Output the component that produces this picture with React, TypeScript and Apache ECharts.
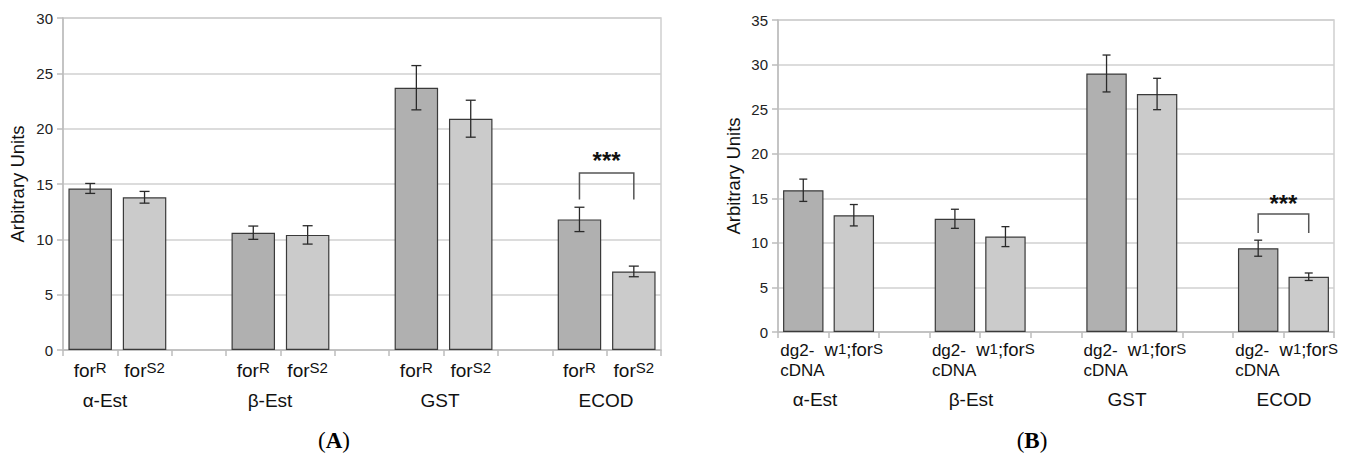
import React, { useEffect, useRef } from "react";
import * as echarts from "echarts";

// ---------- data ----------
const groups = ["α-Est", "β-Est", "GST", "ECOD"];

// Panel A
const strainsA = ["forR", "forS2"];
const meanA_forR = [14.6, 10.6, 23.7, 11.8];
const errA_forR = [0.45, 0.6, 2.0, 1.1];
const meanA_forS2 = [13.8, 10.4, 20.9, 7.1];
const errA_forS2 = [0.53, 0.83, 1.67, 0.48];
const yTicksA = [0, 5, 10, 15, 20, 25, 30];
const sigA = { group: 3, stars: "***", top: 16.0, bottom: 13.6 };
const labelRichA = ["{t|for}{s|R}", "{t|for}{s|S2}"];

// Panel B
const strainsB = ["dg2-cDNA", "w1;forS"];
const meanB_dg2 = [15.9, 12.7, 29.0, 9.4];
const errB_dg2 = [1.25, 1.07, 2.07, 0.9];
const meanB_w1 = [13.1, 10.7, 26.7, 6.2];
const errB_w1 = [1.2, 1.12, 1.76, 0.42];
const yTicksB = [0, 5, 10, 15, 20, 25, 30, 35];
const sigB = { group: 3, stars: "***", top: 13.25, bottom: 11.1 };
const labelRichB = ["{c|dg2-}\n{c|cDNA}", "{t|w}{s|1}{t|;for}{s|S}"];

const barColors = ["#b0b0b0", "#cbcbcb"];
const FONT = "Liberation Sans, Arial, Helvetica, sans-serif";
const SERIF = "Liberation Serif, Times New Roman, serif";

type Slot = { g: number; k: number } | null;

function buildSlots(nG: number, nK: number): Slot[] {
  const out: Slot[] = [];
  for (let g = 0; g < nG; g++) {
    for (let k = 0; k < nK; k++) out.push({ g, k });
    if (g < nG - 1) out.push(null);
  }
  return out;
}

function panel(
  idx: number,
  strains: string[],
  means: number[][],
  errs: number[][],
  yTicks: number[],
  sig: { group: number; stars: string; top: number; bottom: number },
  labelRich: string[],
  rich: any,
  capHalf: number,
  starsOffset: number,
  nameGap: number,
  labelMargin: number
) {
  const slots = buildSlots(groups.length, strains.length);
  const cats = slots.map((s, i) => (s ? groups[s.g] + " " + strains[s.k] : "gap" + i));
  const labels = slots.map((s) => (s ? labelRich[s.k] : ""));
  const barData = slots.map((s) =>
    s ? { value: means[s.k][s.g], itemStyle: { color: barColors[s.k] } } : "-"
  );
  const errData: number[][] = [];
  slots.forEach((s, i) => {
    if (s) {
      const m = means[s.k][s.g];
      const e = errs[s.k][s.g];
      errData.push([i, m - e, m + e]);
    }
  });
  const s1 = slots.findIndex((s) => s && s.g === sig.group && s.k === 0);
  const s2 = slots.findIndex((s) => s && s.g === sig.group && s.k === 1);

  const xAxis = {
    type: "category",
    gridIndex: idx,
    data: cats,
    boundaryGap: true,
    axisLine: { show: true, lineStyle: { color: "#bdbdbd", width: 1.5 } },
    axisTick: { show: true, interval: 0, length: 6, lineStyle: { color: "#bdbdbd", width: 1.5 } },
    axisLabel: {
      interval: 0,
      margin: labelMargin,
      color: "#111",
      formatter: (_v: string, i: number) => labels[i],
      rich,
    },
    splitLine: { show: false },
  };
  const yAxis = {
    type: "value",
    gridIndex: idx,
    min: yTicks[0],
    max: yTicks[yTicks.length - 1],
    interval: yTicks[1] - yTicks[0],
    name: "Arbitrary Units",
    nameLocation: "middle",
    nameGap,
    nameTextStyle: { fontSize: 18.5, color: "#111", fontFamily: FONT },
    axisLine: { show: true, lineStyle: { color: "#bdbdbd", width: 1.5 } },
    axisTick: { show: true, length: 6, lineStyle: { color: "#bdbdbd", width: 1.5 } },
    axisLabel: { fontSize: 15, color: "#222", margin: 10, fontFamily: FONT },
    splitLine: { show: true, lineStyle: { color: "#d0d0d0", width: 1.5 } },
  };
  const series = [
    {
      type: "bar",
      xAxisIndex: idx,
      yAxisIndex: idx,
      data: barData,
      barWidth: "80%",
      itemStyle: { borderColor: "#3a3a3a", borderWidth: 1.2 },
      z: 2,
    },
    {
      type: "custom",
      xAxisIndex: idx,
      yAxisIndex: idx,
      data: errData,
      z: 3,
      renderItem: (_p: any, api: any) => {
        const x = api.value(0);
        const lo = api.coord([x, api.value(1)]);
        const hi = api.coord([x, api.value(2)]);
        const st = { stroke: "#2a2a2a", lineWidth: 1.3 };
        return {
          type: "group",
          children: [
            { type: "line", shape: { x1: lo[0], y1: lo[1], x2: hi[0], y2: hi[1] }, style: st },
            { type: "line", shape: { x1: lo[0] - capHalf, y1: lo[1], x2: lo[0] + capHalf, y2: lo[1] }, style: st },
            { type: "line", shape: { x1: hi[0] - capHalf, y1: hi[1], x2: hi[0] + capHalf, y2: hi[1] }, style: st },
          ],
        };
      },
    },
    {
      type: "custom",
      xAxisIndex: idx,
      yAxisIndex: idx,
      data: [[s1, s2, sig.bottom, sig.top]],
      z: 4,
      renderItem: (_p: any, api: any) => {
        const a0 = api.coord([api.value(0), api.value(2)]);
        const a1 = api.coord([api.value(0), api.value(3)]);
        const b1 = api.coord([api.value(1), api.value(3)]);
        const b0 = api.coord([api.value(1), api.value(2)]);
        return {
          type: "group",
          children: [
            {
              type: "polyline",
              shape: { points: [a0, a1, b1, b0] },
              style: { stroke: "#555", lineWidth: 1.5, fill: "none" },
            },
            {
              type: "text",
              x: (a1[0] + b1[0]) / 2,
              y: a1[1] - starsOffset,
              style: {
                text: sig.stars,
                fontSize: 24,
                fontWeight: "bold",
                fontFamily: FONT,
                fill: "#111",
                align: "center",
                verticalAlign: "middle",
                textAlign: "center",
                textVerticalAlign: "middle",
              },
            },
          ],
        };
      },
    },
  ];
  return { xAxis, yAxis, series };
}

const richA = {
  t: { fontSize: 19, lineHeight: 21, color: "#111", fontFamily: FONT },
  s: { fontSize: 15, lineHeight: 17, verticalAlign: "top", color: "#111", fontFamily: FONT },
};
const richB = {
  t: { fontSize: 18.5, lineHeight: 17, color: "#111", fontFamily: FONT },
  s: { fontSize: 15, lineHeight: 13, verticalAlign: "top", color: "#111", fontFamily: FONT },
  c: { fontSize: 17, lineHeight: 19.5, width: 46, align: "left", color: "#111", fontFamily: FONT },
};

const groupLabelXA = [105, 270, 440, 606];
const groupLabelXB = [815, 971, 1127, 1284];

export default function App() {
  const ref = useRef<HTMLDivElement>(null);
  useEffect(() => {
    if (!ref.current) return;
    const chart = echarts.init(ref.current, undefined, { renderer: "svg" });
    const A = panel(0, strainsA, [meanA_forR, meanA_forS2], [errA_forR, errA_forS2], yTicksA, sigA, labelRichA, richA, 5, 12, 36, 10);
    const B = panel(1, strainsB, [meanB_dg2, meanB_w1], [errB_dg2, errB_w1], yTicksB, sigB, labelRichB, richB, 4, 10, 35, 9);
    const textEl = (x: number, y: number, text: string) => ({
      type: "text",
      x,
      y,
      style: {
        text,
        fontSize: 19,
        fontFamily: FONT,
        fill: "#111",
        align: "center",
        verticalAlign: "middle",
        textAlign: "center",
        textVerticalAlign: "middle",
      },
    });
    const panelLabel = (x: number, y: number, letter: string) => ({
      type: "text",
      x,
      y,
      style: {
        text: "{p|(}{b|" + letter + "}{p|)}",
        rich: {
          p: { fontSize: 23, fontFamily: SERIF, fill: "#000", color: "#000" },
          b: { fontSize: 23, fontFamily: SERIF, fontWeight: "bold", fill: "#000", color: "#000" },
        },
        align: "center",
        verticalAlign: "middle",
        textAlign: "center",
        textVerticalAlign: "middle",
      },
    });
    chart.setOption({
      animation: false,
      backgroundColor: "#ffffff",
      textStyle: { fontFamily: FONT },
      grid: [
        { left: 63, top: 18, width: 598, height: 332, show: true, borderColor: "#d0d0d0", borderWidth: 1.5, backgroundColor: "transparent" },
        { left: 778, top: 20, width: 556, height: 312, show: true, borderColor: "#d0d0d0", borderWidth: 1.5, backgroundColor: "transparent" },
      ],
      xAxis: [A.xAxis, B.xAxis],
      yAxis: [A.yAxis, B.yAxis],
      series: [...A.series, ...B.series],
      graphic: [
        ...groupLabelXA.map((x, i) => textEl(x, 400, groups[i])),
        ...groupLabelXB.map((x, i) => textEl(x, 399, groups[i])),
        panelLabel(334, 440, "A"),
        panelLabel(1032, 440, "B"),
      ],
    });
    return () => chart.dispose();
  }, []);
  return (
    <div
      ref={ref}
      style={{ position: "fixed", left: 0, top: 0, width: 1355, height: 457, background: "#fff" }}
    />
  );
}
